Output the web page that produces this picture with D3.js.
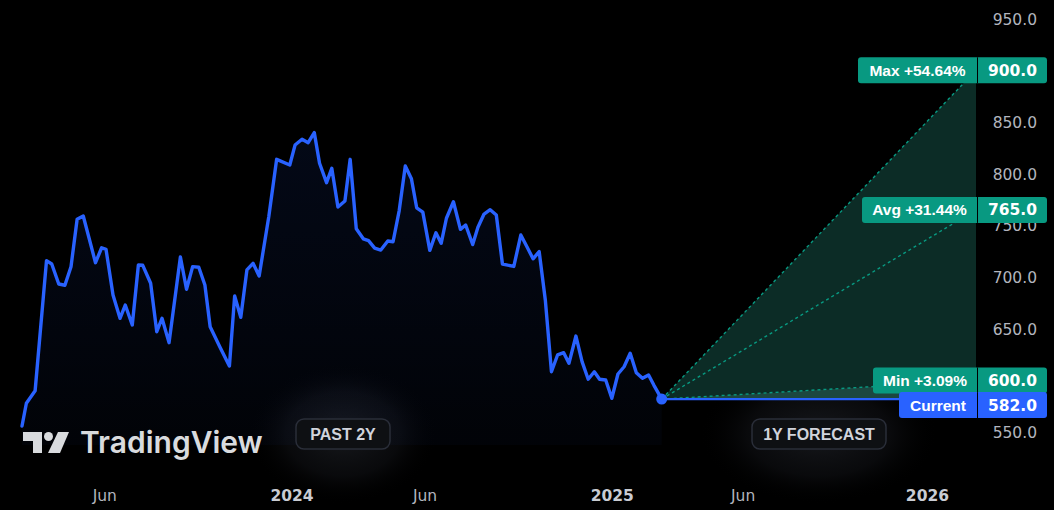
<!DOCTYPE html>
<html><head><meta charset="utf-8">
<script src="https://cdn.jsdelivr.net/npm/d3@7"></script>
<style>html,body{margin:0;padding:0;background:#000;}svg{display:block;}</style>
</head><body>
<svg id="chart" width="1054" height="510"></svg>
<script>
// ---- data ----
const dates = ["2023-02-27","2023-03-04","2023-03-14","2023-03-27","2023-04-02","2023-04-10","2023-04-17","2023-04-24","2023-05-01","2023-05-08","2023-05-22","2023-05-29","2023-06-03","2023-06-11","2023-06-19","2023-06-25","2023-07-03","2023-07-10","2023-07-15","2023-07-24","2023-07-31","2023-08-06","2023-08-14","2023-08-21","2023-08-27","2023-09-03","2023-09-10","2023-09-17","2023-09-24","2023-09-30","2023-10-11","2023-10-22","2023-10-28","2023-11-04","2023-11-11","2023-11-18","2023-11-25","2023-12-06","2023-12-15","2023-12-30","2024-01-05","2024-01-13","2024-01-20","2024-01-27","2024-02-02","2024-02-10","2024-02-16","2024-02-23","2024-03-02","2024-03-08","2024-03-15","2024-03-23","2024-03-29","2024-04-05","2024-04-12","2024-04-20","2024-04-26","2024-05-03","2024-05-10","2024-05-17","2024-05-23","2024-05-30","2024-06-07","2024-06-14","2024-06-20","2024-06-26","2024-07-04","2024-07-12","2024-07-18","2024-07-26","2024-08-01","2024-08-08","2024-08-15","2024-08-22","2024-08-29","2024-09-11","2024-09-19","2024-09-26","2024-10-03","2024-10-10","2024-10-17","2024-10-24","2024-10-31","2024-11-07","2024-11-13","2024-11-21","2024-11-28","2024-12-05","2024-12-12","2024-12-18","2024-12-25","2025-01-01","2025-01-08","2025-01-15","2025-01-22","2025-01-29","2025-02-05","2025-02-12","2025-02-18","2025-02-27"];
const prices = [556,578,590.1,715.9,712.7,693.3,692.1,710.1,755.9,759.1,713.9,728.4,726.9,682.7,660.2,673.0,653.7,711.7,711.4,694.0,647.2,660.2,636.6,681.0,719.4,688.2,710.1,709.5,692.4,652.0,632.7,614.0,681.7,661.1,706.9,713.3,701.1,758.4,813.9,808.4,827.7,833.3,830.0,839.7,810.1,791.3,805.2,767.8,773.6,813.9,746.7,737.0,735.2,728.1,726.2,734.9,734.2,764.1,807.4,795.1,767.0,762.8,725.9,742.9,732.7,756.9,772.9,746.2,750.4,731.5,748.2,761.0,765.2,760.1,712.7,710.3,740.7,729.4,717.7,724.6,677.9,608.5,624.7,626.9,616.6,643.0,618.2,601.2,608.5,601.2,600.5,582.8,606.3,613.3,626.3,607.5,602.1,605.3,595.6,582.0];
const currentPrice = 582.0;
const forecastEndDate = "2026-02-27";
const forecastNames = ["Max","Avg","Min"];
const forecastValues = [900.0, 765.0, 600.0];
const yTickValues = [550,600,650,700,750,800,850,900,950];
const xTickDates = ["2023-06-01","2024-01-01","2024-06-01","2025-01-01","2025-06-01","2026-01-01"];
const xTickLabels = ["Jun","2024","Jun","2025","Jun","2026"];
const badgeLabels = ["PAST 2Y","1Y FORECAST"];

// ---- setup ----
const parse = d3.utcParse("%Y-%m-%d");
const series = dates.map((d,i)=>({date:parse(d), value:prices[i]}));
const startDate = series[0].date, curDate = series[series.length-1].date, endDate = parse(forecastEndDate);
const svg = d3.select("#chart");
const W = 1054, H = 510;
const x = d3.scaleUtc().domain([startDate, curDate, endDate]).range([22, 661.7, 976]);
const y = d3.scaleLinear().domain([550, 950]).range([432.2, 18.6]);
const BLUE = "#2962ff", GREEN = "#089981";

svg.append("rect").attr("width",W).attr("height",H).attr("fill","#000");
const defs = svg.append("defs");
const glow = defs.append("radialGradient").attr("id","glow");
glow.append("stop").attr("offset","0%").attr("stop-color","#2a2d35").attr("stop-opacity",0.55);
glow.append("stop").attr("offset","60%").attr("stop-color","#1a1c22").attr("stop-opacity",0.35);
glow.append("stop").attr("offset","100%").attr("stop-color","#000").attr("stop-opacity",0);
const areaGrad = defs.append("linearGradient").attr("id","areaGrad").attr("x1",0).attr("x2",0).attr("y1",0).attr("y2",1);
areaGrad.append("stop").attr("offset","0%").attr("stop-color",BLUE).attr("stop-opacity",0.09);
areaGrad.append("stop").attr("offset","100%").attr("stop-color",BLUE).attr("stop-opacity",0.03);

// glows behind badges
const badgeCenters = [[343,434],[819,434]];
svg.selectAll("ellipse.glow").data(badgeCenters).join("ellipse").attr("class","glow")
  .attr("cx",d=>d[0]).attr("cy",d=>d[1]).attr("rx",(d,i)=>i?120:95).attr("ry",70).attr("fill","url(#glow)");

// area + line
const area = d3.area().x(d=>x(d.date)).y0(445).y1(d=>y(d.value));
svg.append("path").datum(series).attr("d",area).attr("fill","url(#areaGrad)");

// forecast cone
const maxV = d3.max(forecastValues), minV = d3.min(forecastValues);
svg.append("path").attr("d", d3.line()([[x(curDate),y(currentPrice)],[x(endDate),y(maxV)],[x(endDate),y(minV)]])+"Z")
  .attr("fill","#0c2c26");
svg.append("path").attr("d", d3.line()([[x(curDate),y(currentPrice)],[x(endDate),y(minV)],[x(endDate),y(currentPrice)]])+"Z")
  .attr("fill","#1c4740");
forecastValues.forEach(v=>{
  svg.append("line").attr("x1",x(curDate)).attr("y1",y(currentPrice)).attr("x2",x(endDate)).attr("y2",y(v))
    .attr("stroke",GREEN).attr("stroke-width",1.4).attr("stroke-dasharray","3,3");
});
svg.append("line").attr("x1",x(curDate)).attr("y1",y(currentPrice)).attr("x2",x(endDate)).attr("y2",y(currentPrice))
  .attr("stroke",BLUE).attr("stroke-width",2.2);

svg.append("path").datum(series).attr("d", d3.line().x(d=>x(d.date)).y(d=>y(d.value)))
  .attr("fill","none").attr("stroke",BLUE).attr("stroke-width",3.4).attr("stroke-linejoin","round").attr("stroke-linecap","round");
svg.append("circle").attr("cx",x(curDate)).attr("cy",y(currentPrice)).attr("r",5.5).attr("fill",BLUE);

// y axis (right); ticks hidden under the forecast price boxes are not drawn
const visibleTicks = yTickValues.filter(v=>!forecastValues.includes(v));
const yAxis = svg.append("g").attr("transform","translate(1037,0)")
  .call(d3.axisLeft(y).tickValues(visibleTicks).tickFormat(d3.format(".1f")).tickSize(0).tickPadding(0));
yAxis.select(".domain").remove();
yAxis.selectAll("text").attr("fill","#b2b5be").attr("font-family","DejaVu Sans").attr("font-size",15.5).attr("dy","0.36em");

// x axis
const xAxis = svg.append("g").attr("transform","translate(0,486)")
  .call(d3.axisBottom(x).tickValues(xTickDates.map(parse)).tickFormat((d,i)=>xTickLabels[i]).tickSize(0).tickPadding(0));
xAxis.select(".domain").remove();
xAxis.selectAll("text").attr("fill",(d,i)=>/^\d/.test(xTickLabels[i])?"#c9ccd3":"#b2b5be")
  .attr("font-family","DejaVu Sans").attr("font-size",15.5)
  .attr("font-weight",(d,i)=>/^\d/.test(xTickLabels[i])?"bold":"normal").attr("dy","0.95em");

// label boxes
function labelBox(name, valText, cy, color, leftX){
  const g = svg.append("g");
  g.append("rect").attr("x",leftX).attr("y",cy-13).attr("width",1047-leftX).attr("height",26).attr("rx",3).attr("fill",color);
  g.append("line").attr("x1",977.5).attr("x2",977.5).attr("y1",cy-13).attr("y2",cy+13).attr("stroke","#000").attr("stroke-width",1);
  g.append("text").attr("x",(leftX+977)/2).attr("y",cy).attr("dy","0.36em").attr("text-anchor","middle")
    .attr("fill","#fff").attr("font-family","Liberation Sans").attr("font-weight","bold").attr("font-size",15.5).text(name);
  g.append("text").attr("x",1037).attr("y",cy).attr("dy","0.36em").attr("text-anchor","end")
    .attr("fill","#fff").attr("font-family","DejaVu Sans").attr("font-size",15.5).attr("font-weight","bold").text(valText);
}
const pct = d3.format("+.2f");
const boxLeft = [858,862,873];
forecastNames.forEach((n,i)=>{
  const v = forecastValues[i];
  labelBox(`${n} ${pct((v/currentPrice-1)*100)}%`, d3.format(".1f")(v), y(v), GREEN, boxLeft[i]);
});
labelBox("Current", d3.format(".1f")(currentPrice), y(currentPrice)+6, BLUE, 899);

// badges
const badgeBoxes = [[296,390],[752,886]];
badgeLabels.forEach((t,i)=>{
  const [a,b] = badgeBoxes[i];
  svg.append("rect").attr("x",a).attr("y",419).attr("width",b-a).attr("height",30).attr("rx",8)
    .attr("fill","#0e1013").attr("stroke","#2a2e39").attr("stroke-width",1.5);
  svg.append("text").attr("x",(a+b)/2).attr("y",434).attr("dy","0.36em").attr("text-anchor","middle")
    .attr("fill","#d1d4dc").attr("font-family","Liberation Sans").attr("font-weight","bold").attr("font-size",16).text(t);
});

// TradingView logo
const logo = svg.append("g").attr("fill","#d9dbde");
logo.append("path").attr("d","M23,432 H42 V453 H33 V441 H23 Z");
logo.append("circle").attr("cx",48.5).attr("cy",436.5).attr("r",4.5);
logo.append("path").attr("d","M58,432 H69 L60,453 H48 Z");
svg.append("text").attr("x",80).attr("y",453).attr("fill","#d9dbde").attr("font-family","Inter")
  .attr("font-weight",600).attr("font-size",30).attr("letter-spacing",0).text("TradingView");
</script>
</body></html>
